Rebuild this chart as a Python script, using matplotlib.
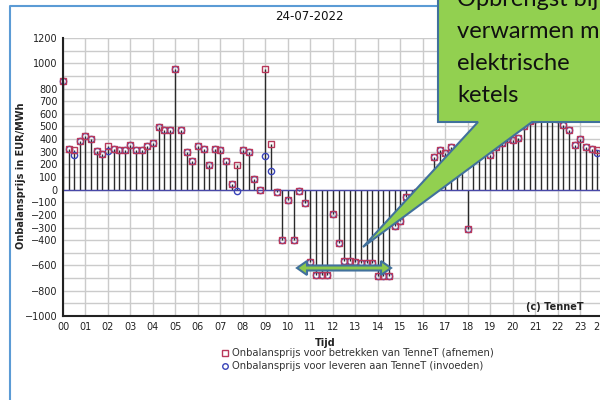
import numpy as np
import matplotlib
matplotlib.use('Agg')
import matplotlib.pyplot as plt
from matplotlib.patches import Polygon
from matplotlib.lines import Line2D

# onbalansprijzen per kwartier, 24-07-2022 (EUR/MWh)
afnemen = [
    860, 322, 316, 388,
    427, 401, 303, 282,
    343, 324, 311, 311,
    356, 311, 311, 348,
    369, 493, 475, 469,
    955, 469, 295, 224,
    343, 322, 198, 322,
    316, 224, 47, 198,
    316, 295, 84, -5,
    955, 361, -21, -396,
    -84, -396, -10, -106,
    -570, -675, -675, -675,
    -190, -422, -567, -567,
    -575, -580, -580, -580,
    -680, -680, -680, -288,
    -248, -55, -60, -20,
    20, 60, 257, 310,
    292, 338, 300, 280,
    -310, 280, 300, 310,
    272, 340, 370, 400,
    392, 412, 500, 540,
    560, 580, 590, 570,
    560, 514, 469, 356,
    401, 338, 322, 316,
]
invoeden = [
    860, 322, 277, 388,
    427, 401, 303, 282,
    305, 324, 311, 311,
    356, 311, 311, 348,
    369, 493, 475, 469,
    955, 469, 295, 224,
    343, 322, 198, 322,
    316, 224, 47, -13,
    316, 295, 84, -5,
    269, 145, -21, -396,
    -84, -396, -10, -106,
    -570, -675, -675, -675,
    -190, -422, -567, -567,
    -575, -580, -580, -580,
    -680, -680, -680, -288,
    -248, -55, -60, -20,
    20, 60, 257, 310,
    292, 338, 300, 280,
    -310, 280, 300, 310,
    272, 340, 370, 400,
    392, 412, 500, 540,
    560, 580, 590, 570,
    560, 514, 469, 356,
    401, 338, 322, 290,
]
ytick_vals = [1200, 1000, 800, 700, 600, 500, 400, 300, 200, 100, 0,
              -100, -200, -300, -400, -600, -800, -1000]
xtick_pos = list(range(24)) + [23.85]
xtick_labels = ['%02d' % h for h in range(24)] + ['23']
callout_lines = ['Opbrengst bij', 'verwarmen met', 'elektrische', 'ketels']

W, H = 600, 400
def fx(x):
    return x / W
def fy(y):
    return 1 - y / H

plt.rcParams['font.family'] = ['DejaVu Sans']
fig = plt.figure(figsize=(6, 4), dpi=100)
fig.patch.set_facecolor('white')

ax = fig.add_axes([fx(63), fy(316), (614 - 63) / W, (316 - 38) / H])
x = np.arange(len(afnemen)) / 4

ax.vlines(x, 0, afnemen, color='#2a2a2a', lw=1, zorder=2)
ax.axhline(0, color='#4848a8', lw=1, zorder=3)
ax.plot(x, invoeden, 'o', ms=4.5, mfc='none', mec='#3a44b8', mew=1, zorder=4, clip_on=False)
ax.plot(x, afnemen, 's', ms=5, mfc='none', mec='#b8385a', mew=1, zorder=5, clip_on=False)

ax.set_xlim(0, 24.5)
ax.set_ylim(-1000, 1200)
ax.set_yticks(ytick_vals)
ax.set_xticks(xtick_pos)
ax.set_xticklabels(xtick_labels)
ax.tick_params(which='both', length=0, labelsize=7, colors='#222222')
ax.tick_params(axis='y', pad=4)
ax.tick_params(axis='x', pad=4)

# rasterlijnen: elke 100 EUR/MWh en elk uur
for v in np.arange(-1000, 1201, 100):
    ax.axhline(v, color='#cbcbcb', lw=1, zorder=0)
for h in range(25):
    ax.axvline(h, color='#cbcbcb', lw=1, zorder=0)

for s in ['top', 'right']:
    ax.spines[s].set_visible(False)
for s in ['left', 'bottom']:
    ax.spines[s].set_color('#222222')
    ax.spines[s].set_linewidth(1.5)
    ax.spines[s].set_zorder(6)

# teksten rond de grafiek
fig.text(fx(309), fy(16), '24-07-2022', ha='center', va='center', fontsize=8.5, color='#111111')
fig.text(fx(21), fy(176), 'Onbalansprijs in EUR/MWh', rotation=90, ha='center', va='center',
         fontsize=7, fontweight='bold', color='#222222')
fig.text(fx(325), fy(343), 'Tijd', ha='center', va='center', fontsize=7, fontweight='bold', color='#222222')
fig.text(fx(555), fy(307), '(c) TenneT', ha='center', va='center', fontsize=7, fontweight='bold', color='#222222')

# legenda
fig.add_artist(Line2D([fx(225)], [fy(353)], marker='s', ms=4, mfc='none', mec='#b8385a', mew=1, transform=fig.transFigure))
fig.add_artist(Line2D([fx(225)], [fy(366)], marker='o', ms=4, mfc='none', mec='#3a44b8', mew=1, transform=fig.transFigure))
fig.text(fx(232), fy(353), 'Onbalansprijs voor betrekken van TenneT (afnemen)', va='center', fontsize=7.2, color='#333333')
fig.text(fx(232), fy(366), 'Onbalansprijs voor leveren aan TenneT (invoeden)', va='center', fontsize=7.2, color='#333333')

# blauwe kader
fig.add_artist(Line2D([fx(10), fx(10), fx(620)], [fy(420), fy(6), fy(6)], color='#5b9bd5', lw=1.5, transform=fig.transFigure))

# tekstballon
callout = [(438, -10), (438, 122), (478, 122), (363, 247), (532, 122), (620, 122), (620, -10)]
fig.add_artist(Polygon([(fx(a), fy(b)) for a, b in callout], closed=True, fc='#92d050', ec='#41719c', lw=1.5,
                       transform=fig.transFigure, zorder=10))
for i, line in enumerate(callout_lines):
    fig.text(fx(457), fy(6 + 32 * i), line, fontsize=17, family='Lato', va='baseline', color='#111111', zorder=11)

# dubbele pijl
arrow = [(297, 268), (307, 261), (307, 265.5), (381, 265.5), (381, 261), (391, 268),
         (381, 275), (381, 270.5), (307, 270.5), (307, 275)]
fig.add_artist(Polygon([(fx(a), fy(b)) for a, b in arrow], closed=True, fc='#8cc84b', ec='#41719c', lw=1.5,
                       transform=fig.transFigure, zorder=10))

fig.savefig('out.png', dpi=100, facecolor='white')
